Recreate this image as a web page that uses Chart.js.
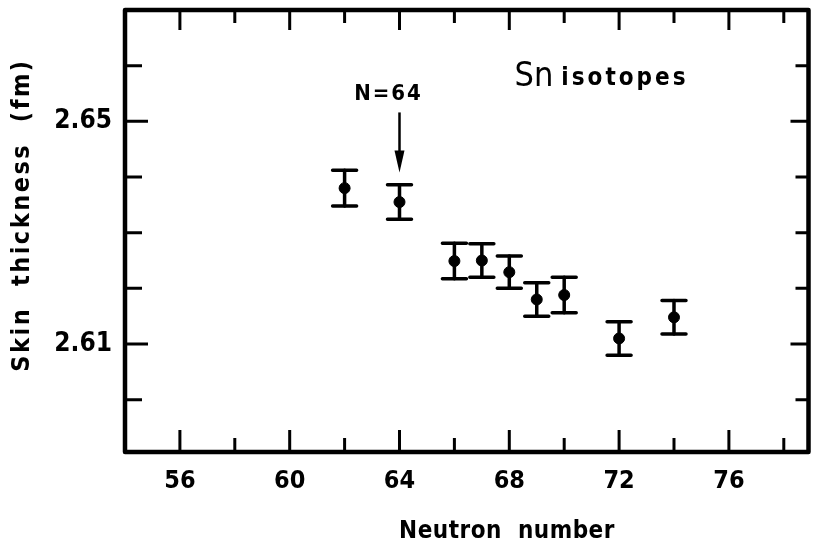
<!DOCTYPE html>
<html>
<head>
<meta charset="utf-8">
<script src="https://cdn.jsdelivr.net/npm/chart.js@4"></script>
<style>
  html, body { margin: 0; padding: 0; background: #fff; }
  canvas { display: block; }
</style>
</head>
<body>
<canvas id="skin-chart" width="815" height="549"></canvas>
<script>
// Sn isotopes: skin thickness vs neutron number
const neutronNumbers = [62, 64, 66, 67, 68, 69, 70, 72, 74];
const skinThickness = [2.638, 2.6355, 2.6249, 2.625, 2.6229, 2.618, 2.6188, 2.611, 2.6148];
const skinError = [0.0032, 0.0031, 0.0032, 0.003, 0.0029, 0.003, 0.0032, 0.003, 0.003];

const xTickValues = [56, 58, 60, 62, 64, 66, 68, 70, 72, 74, 76, 78];
const xTickLabels = [56, 60, 64, 68, 72, 76];
const yTickValues = [2.60, 2.61, 2.62, 2.63, 2.64, 2.65, 2.66];
const yTickLabels = [2.61, 2.65];

const FONT = "'DejaVu Sans Condensed', 'DejaVu Sans', sans-serif";
const INK = '#000';

const isLabelled = (list, v) => list.some((l) => Math.abs(l - v) < 1e-6);

// error bars with caps
const errorBars = {
  id: 'errorBars',
  afterDatasetsDraw(chart) {
    const { ctx, scales: { x, y } } = chart;
    ctx.save();
    ctx.strokeStyle = INK;
    ctx.lineCap = 'round';
    neutronNumbers.forEach((n, i) => {
      const px = x.getPixelForValue(n);
      const top = y.getPixelForValue(skinThickness[i] + skinError[i]);
      const bot = y.getPixelForValue(skinThickness[i] - skinError[i]);
      ctx.lineWidth = 3.5;
      ctx.beginPath();
      ctx.moveTo(px, top);
      ctx.lineTo(px, bot);
      ctx.stroke();
      ctx.lineWidth = 3.5;
      ctx.beginPath();
      ctx.moveTo(px - 12, top);
      ctx.lineTo(px + 12, top);
      ctx.moveTo(px - 12, bot);
      ctx.lineTo(px + 12, bot);
      ctx.stroke();
    });
    ctx.restore();
  },
};

// frame, inward ticks on all four sides, titles and notes
const frameAndNotes = {
  id: 'frameAndNotes',
  afterDraw(chart) {
    const { ctx, chartArea: a, scales: { x, y } } = chart;
    ctx.save();
    ctx.strokeStyle = INK;
    ctx.lineWidth = 4.5;
    ctx.lineJoin = 'round';
    ctx.strokeRect(a.left, a.top, a.right - a.left, a.bottom - a.top);

    ctx.lineWidth = 3;
    ctx.beginPath();
    xTickValues.forEach((v) => {
      const px = x.getPixelForValue(v);
      const major = isLabelled(xTickLabels, v);
      ctx.moveTo(px, a.bottom);
      ctx.lineTo(px, a.bottom - (major ? 22 : 14));
      ctx.moveTo(px, a.top);
      ctx.lineTo(px, a.top + (major ? 20 : 13));
    });
    yTickValues.forEach((v) => {
      const py = y.getPixelForValue(v);
      const major = isLabelled(yTickLabels, v);
      ctx.moveTo(a.left, py);
      ctx.lineTo(a.left + (major ? 23 : 17), py);
      ctx.moveTo(a.right, py);
      ctx.lineTo(a.right - (major ? 18 : 13), py);
    });
    ctx.stroke();

    ctx.fillStyle = INK;
    ctx.textBaseline = 'middle';
    ctx.textAlign = 'center';

    // axis titles
    ctx.font = `bold 24px ${FONT}`;
    ctx.letterSpacing = '0.5px';
    ctx.fillText('Neutron  number', 507, 532);
    ctx.save();
    ctx.translate(22, 215);
    ctx.rotate(-Math.PI / 2);
    ctx.font = `bold 25px ${FONT}`;
    ctx.letterSpacing = '2.5px';
    ctx.fillText('Skin  thickness  (fm)', 0, 0);
    ctx.restore();

    // N=64 arrow
    const ax = x.getPixelForValue(64);
    const aTop = y.getPixelForValue(2.6516);
    const aTip = y.getPixelForValue(2.6408);
    ctx.lineWidth = 2.5;
    ctx.beginPath();
    ctx.moveTo(ax, aTop);
    ctx.lineTo(ax, aTip - 14);
    ctx.stroke();
    ctx.beginPath();
    ctx.moveTo(ax - 5, aTip - 22);
    ctx.lineTo(ax + 5, aTip - 22);
    ctx.lineTo(ax, aTip);
    ctx.closePath();
    ctx.fill();
    ctx.font = `bold 22px ${FONT}`;
    ctx.letterSpacing = '2px';
    ctx.fillText('N=64', ax - 11, y.getPixelForValue(2.6548));

    // Sn isotopes
    ctx.textAlign = 'left';
    const sx = x.getPixelForValue(68.19);
    const sy = y.getPixelForValue(2.658);
    ctx.font = `34px ${FONT}`;
    ctx.letterSpacing = '0px';
    ctx.fillText('Sn', sx, sy);
    const w = ctx.measureText('Sn').width;
    ctx.font = `bold 24px ${FONT}`;
    ctx.letterSpacing = '3px';
    ctx.fillText('isotopes', sx + w + 8, sy + 2);
    ctx.restore();
  },
};

new Chart(document.getElementById('skin-chart'), {
  type: 'scatter',
  data: {
    datasets: [
      {
        label: 'Sn isotopes',
        data: neutronNumbers.map((n, i) => ({ x: n, y: skinThickness[i] })),
        backgroundColor: INK,
        borderColor: INK,
        pointRadius: 5.5,
        pointHoverRadius: 5.5,
      },
    ],
  },
  options: {
    responsive: false,
    animation: false,
    devicePixelRatio: 1,
    layout: { padding: { top: 10, right: 3, left: 0, bottom: 0 } },
    plugins: {
      legend: { display: false },
      tooltip: { enabled: false },
    },
    scales: {
      x: {
        type: 'linear',
        min: 54,
        max: 78.9,
        afterBuildTicks: (s) => { s.ticks = xTickValues.map((v) => ({ value: v })); },
        afterFit: (s) => { s.height = 97; s.paddingLeft = 0; s.paddingRight = 0; },
        grid: { display: false, drawTicks: false },
        border: { display: false },
        ticks: {
          padding: 14,
          color: INK,
          font: { family: FONT, size: 25, weight: 'bold' },
          maxRotation: 0,
          autoSkip: false,
          callback: (v) => (isLabelled(xTickLabels, v) ? String(v) : ''),
        },
      },
      y: {
        type: 'linear',
        min: 2.5906,
        max: 2.67,
        afterBuildTicks: (s) => { s.ticks = yTickValues.map((v) => ({ value: v })); },
        afterFit: (s) => { s.width = 125; s.paddingTop = 0; s.paddingBottom = 0; },
        grid: { display: false, drawTicks: false },
        border: { display: false },
        ticks: {
          padding: 13,
          color: INK,
          font: { family: FONT, size: 26, weight: 'bold' },
          autoSkip: false,
          callback: (v) => (isLabelled(yTickLabels, v) ? v.toFixed(2) : ''),
        },
      },
    },
  },
  plugins: [errorBars, frameAndNotes],
});
</script>
</body>
</html>
